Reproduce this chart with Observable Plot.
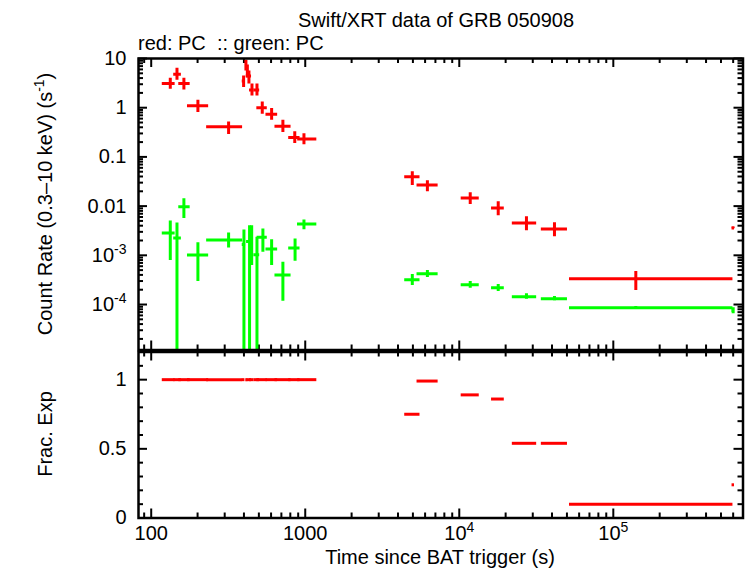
<!DOCTYPE html>
<html>
<head>
<meta charset="utf-8">
<script src="https://cdn.jsdelivr.net/npm/d3@7"></script>
<script src="https://cdn.jsdelivr.net/npm/@observablehq/plot@0.6"></script>
<style>
  body { margin: 0; background: #fff; }
  #chart { position: relative; width: 746px; height: 568px; font-family: "Liberation Sans", Arial, sans-serif; }
  #chart svg { position: absolute; left: 0; }
</style>
</head>
<body>
<div id="chart"></div>
<script>
// Swift/XRT light curve of GRB 050908: PC-mode count rate (red: 0.3-10 keV, green: hardness band)
// Time bins in seconds since the BAT trigger, with bin edges.
const redTime   = [133, 147, 163, 201, 318, 398, 412, 421, 431, 451, 486, 526, 605, 716, 855, 981, 4955, 6209, 11780, 17900, 27300, 41500, 140000, 600000];
const redTimeLo = [118, 140, 151, 172, 229, 390, 410, 418, 414, 435, 464, 485, 556, 636, 781, 893, 4424, 5318, 10290, 16200, 22100, 34100, 51950, 590000];
const redTimeHi = [143, 157, 179, 236, 392, 406, 414, 424, 448, 464, 506, 567, 662, 809, 925, 1189, 5559, 7290, 13480, 19600, 31800, 50400, 598000, 612000];
const redRate   = [3.1, 4.8, 3.1, 1.09, 0.41, 3.5, 7.4, 5.6, 4.4, 2.3, 2.3, 1.0, 0.738, 0.422, 0.248, 0.230, 0.0394, 0.0268, 0.0146, 0.00914, 0.00454, 0.00343, 3.32e-4, 3.6e-3];
const redRateLo = [2.37, 3.6, 2.3, 0.80, 0.284, 2.56, 5.6, 4.07, 3.04, 1.73, 1.73, 0.74, 0.557, 0.313, 0.187, 0.176, 0.0263, 0.0196, 0.0108, 0.00638, 0.00317, 0.00239, 1.92e-4, 3.45e-3];
const redRateHi = [3.96, 6.3, 3.96, 1.42, 0.515, 4.4, 9.2, 7.4, 5.6, 3.04, 3.04, 1.31, 0.96, 0.557, 0.323, 0.294, 0.0499, 0.0327, 0.0187, 0.01227, 0.0061, 0.0046, 4.67e-4, 3.75e-3];
const redFracExp = [1, 1, 1, 1, 1, 1, 1, 1, 1, 1, 1, 1, 1, 1, 1, 1, 0.75, 0.99, 0.89, 0.86, 0.54, 0.54, 0.10, 0.24];

const greenTime   = [133, 147, 163, 201, 318, 400, 435, 449, 486, 531, 605, 716, 859, 981, 4955, 6209, 11780, 17900, 27300, 41500, 140000, 600000];
const greenTimeLo = [118, 140, 151, 172, 229, 390, 416, 441, 464, 487, 556, 636, 781, 891, 4424, 5318, 10290, 16200, 22100, 34100, 51950, 590000];
const greenTimeHi = [143, 157, 179, 236, 392, 410, 452, 458, 506, 567, 662, 809, 925, 1189, 5559, 7290, 13480, 19600, 31800, 50400, 598000, 612000];
const greenRate   = [2.84e-3, 2.26e-3, 9.73e-3, 1.02e-3, 2.05e-3, 1.65e-3, 1.90e-3, 2.0e-3, 1.03e-3, 2.32e-3, 1.35e-3, 4.0e-4, 1.41e-3, 4.34e-3, 3.17e-4, 4.2e-4, 2.51e-4, 2.18e-4, 1.43e-4, 1.31e-4, 8.57e-5, 7.55e-5];
// lower error bars that reach below zero are given a value under the axis floor
const greenRateLo = [7.8e-4, 1e-6, 5.62e-3, 2.93e-4, 1.41e-3, 1e-6, 1e-6, 6.2e-4, 1e-6, 1.15e-3, 6.2e-4, 1.17e-4, 7.55e-4, 3.32e-3, 2.43e-4, 3.53e-4, 2.14e-4, 1.84e-4, 1.28e-4, 1.19e-4, 8.2e-5, 6.47e-5];
const greenRateHi = [4.99e-3, 4.54e-3, 0.0141, 1.81e-3, 2.84e-3, 3.27e-3, 4.0e-3, 4.0e-3, 2.32e-3, 3.43e-3, 2.08e-3, 7.2e-4, 2.15e-3, 5.2e-3, 4.07e-4, 4.9e-4, 2.93e-4, 2.55e-4, 1.65e-4, 1.45e-4, 9.1e-5, 8.57e-5];

// Axis tick labels
const rateTickLabels = ["10^-4", "10^-3", "0.01", "0.1", "1", "10"];
const timeTickLabels = ["100", "1000", "10^4", "10^5"];
const fracTickLabels = ["0", "0.5", "1"];

const RED = "#ff0000", GREEN = "#00ff00";
const W = 746, ML = 138, MR = 3.5;
const FW = W - ML - MR;            // frame width
const timeDomain = [82.7, 6.95e5];

const rows = (t, lo, hi, r, rlo, rhi, f) =>
  t.map((d, i) => ({t: d, tlo: lo[i], thi: hi[i], rate: r[i], rlo: rlo[i], rhi: rhi[i], frac: f ? f[i] : null}));
const redRows = rows(redTime, redTimeLo, redTimeHi, redRate, redRateLo, redRateHi, redFracExp);
const greenRows = rows(greenTime, greenTimeLo, greenTimeHi, greenRate, greenRateLo, greenRateHi);

const labelValue = s => s.startsWith("10^") ? Math.pow(10, +s.slice(3)) : +s;
// formatter that looks up the label written for a tick value
const labelFormat = labels => d =>
  labels.find(s => Math.abs(labelValue(s) - d) <= 1e-9 * Math.max(1e-12, Math.abs(d))) ?? "";

// decade and sub-decade tick values inside [lo, hi]
function logTicks(lo, hi) {
  const major = [], minor = [];
  for (let e = Math.floor(Math.log10(lo)); e <= Math.ceil(Math.log10(hi)); e++) {
    for (let m = 1; m < 10; m++) {
      const v = +(m * Math.pow(10, e)).toPrecision(6);
      if (v < lo || v > hi) continue;
      (m === 1 ? major : minor).push(v);
    }
  }
  return {major, minor};
}

// inward ticks on the left and right edges of the frame
function yTicks(values, len) {
  return [
    Plot.tickY(values, {y: d => d, insetRight: FW - len, stroke: "black", strokeWidth: 2}),
    Plot.tickY(values, {y: d => d, insetLeft: FW - len, stroke: "black", strokeWidth: 2})
  ];
}
// inward ticks on the top and bottom edges of the frame
function xTicks(values, len, FH) {
  return [
    Plot.tickX(values, {x: d => d, insetTop: FH - len, stroke: "black", strokeWidth: 2}),
    Plot.tickX(values, {x: d => d, insetBottom: FH - len, stroke: "black", strokeWidth: 2})
  ];
}

// turn "10^k" labels into a base with a raised exponent
function superscripts(svg) {
  d3.select(svg).selectAll("text").each(function () {
    const s = this.textContent;
    const m = /^10\^(-?\d+)$/.exec(s);
    if (!m) return;
    const el = d3.select(this);
    el.text(null);
    el.append("tspan").text("10");
    el.append("tspan").attr("dy", "-8").attr("font-size", "14px").text(m[1]);
  });
}

const timeT = logTicks(timeDomain[0], timeDomain[1]);
const plotStyle = {fontFamily: "'Liberation Sans', Arial, sans-serif", fontSize: "20px", background: "transparent", overflow: "visible", color: "black"};

// ---- upper panel: count rate ----
const topH = 351, topMT = 58, topMB = 1.5;
const rateDomain = [1.19e-5, 10];
const rateT = logTicks(rateDomain[0], rateDomain[1]);
const topFH = topH - topMT - topMB;

const ratePlot = Plot.plot({
  width: W, height: topH,
  marginLeft: ML, marginRight: MR, marginTop: topMT, marginBottom: topMB,
  style: plotStyle,
  x: {type: "log", domain: timeDomain, axis: null},
  y: {type: "log", domain: rateDomain, axis: null},
  marks: [
    ...yTicks(rateT.minor, 5), ...yTicks(rateT.major, 9),
    ...xTicks(timeT.minor, 5, topFH), ...xTicks(timeT.major, 9, topFH),
    Plot.ruleY(redRows, {y: "rate", x1: "tlo", x2: "thi", stroke: RED, strokeWidth: 3, clip: true}),
    Plot.ruleX(redRows, {x: "t", y1: "rlo", y2: "rhi", stroke: RED, strokeWidth: 3, clip: true}),
    Plot.ruleY(greenRows, {y: "rate", x1: "tlo", x2: "thi", stroke: GREEN, strokeWidth: 3, clip: true}),
    Plot.ruleX(greenRows, {x: "t", y1: "rlo", y2: "rhi", stroke: GREEN, strokeWidth: 3, clip: true}),
    Plot.axisY({ticks: rateTickLabels.map(labelValue), tickFormat: labelFormat(rateTickLabels), tickSize: 0, tickPadding: 12, label: null, fontSize: 20}),
    Plot.frame({stroke: "black", strokeWidth: 2.5})
  ]
});
ratePlot.style.top = "0px";

// ---- lower panel: fractional exposure ----
const botTop = 340, botH = 228, botMT = 11.5, botMB = 50.5;
const botFH = botH - botMT - botMB;
const fracMinor = [0.1, 0.2, 0.3, 0.4, 0.6, 0.7, 0.8, 0.9, 1.1];
const fracMajor = fracTickLabels.map(Number);

const fracPlot = Plot.plot({
  width: W, height: botH,
  marginLeft: ML, marginRight: MR, marginTop: botMT, marginBottom: botMB,
  style: plotStyle,
  x: {type: "log", domain: timeDomain, axis: null},
  y: {domain: [0, 1.2], axis: null},
  marks: [
    ...yTicks(fracMinor, 5), ...yTicks(fracMajor, 9),
    ...xTicks(timeT.minor, 5, botFH), ...xTicks(timeT.major, 9, botFH),
    Plot.ruleY(redRows, {y: "frac", x1: "tlo", x2: "thi", stroke: RED, strokeWidth: 3}),
    Plot.axisY({ticks: fracMajor, tickFormat: labelFormat(fracTickLabels), tickSize: 0, tickPadding: 12, label: null, fontSize: 20}),
    Plot.axisX({ticks: timeTickLabels.map(labelValue), tickFormat: labelFormat(timeTickLabels), tickSize: 0, tickPadding: 8, label: null, fontSize: 20}),
    Plot.frame({stroke: "black", strokeWidth: 2.5})
  ]
});
fracPlot.style.top = botTop + "px";

const chart = document.getElementById("chart");
chart.append(ratePlot, fracPlot);
superscripts(ratePlot);
superscripts(fracPlot);

// ---- titles and axis names ----
const ann = d3.select(chart).append("svg")
  .attr("width", W).attr("height", 568)
  .style("top", "0px").style("pointer-events", "none")
  .attr("font-family", "'Liberation Sans', Arial, sans-serif").attr("font-size", 20).attr("fill", "black");

ann.append("text").attr("x", 436).attr("y", 27).attr("text-anchor", "middle").text("Swift/XRT data of GRB 050908");
ann.append("text").attr("x", 138).attr("y", 50).style("white-space", "pre").text("red: PC  :: green: PC");

const yl = ann.append("text").attr("transform", "translate(45,204) rotate(-90)").attr("text-anchor", "middle").attr("dy", "0.35em");
yl.append("tspan").text("Count Rate (0.3\u201310 keV) (s");
yl.append("tspan").attr("dy", "-8").attr("font-size", "14px").text("-1");
yl.append("tspan").attr("dy", "8").text(")");

ann.append("text").attr("transform", "translate(45,434) rotate(-90)").attr("text-anchor", "middle").attr("dy", "0.35em").text("Frac. Exp");
ann.append("text").attr("x", 440).attr("y", 564).attr("text-anchor", "middle").text("Time since BAT trigger (s)");
</script>
</body>
</html>
